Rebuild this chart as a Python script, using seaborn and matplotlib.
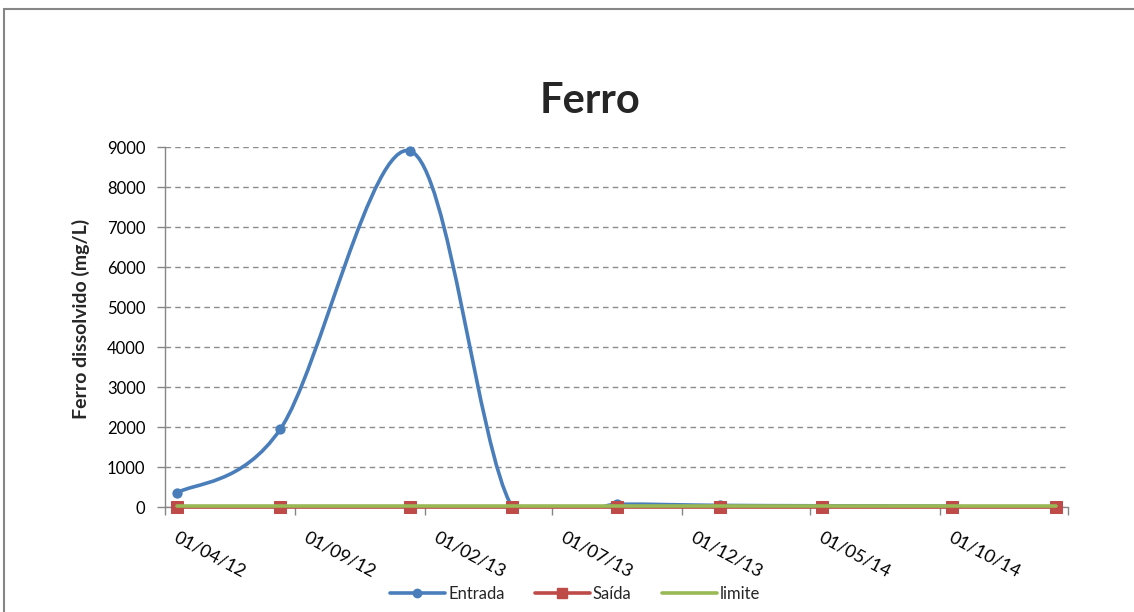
import matplotlib
matplotlib.use("Agg")
import matplotlib.pyplot as plt
import matplotlib.transforms as mtransforms
from matplotlib.path import Path
from matplotlib.patches import PathPatch, Rectangle
from matplotlib.lines import Line2D
import seaborn as sns
import numpy as np
import pandas as pd
import matplotlib.dates as mdates

# data
dates = pd.to_datetime([
    "2012-04-15", "2012-08-15", "2013-01-15", "2013-05-15", "2013-09-15",
    "2014-01-15", "2014-05-15", "2014-10-15", "2015-02-15",
])
entrada = [350, 1950, 8900, 0, 70, 40, 30, 20]
saida = [0, 0, 0, 0, 0, 0, 0, 0, 0]
limite = [15, 15, 15, 15, 15, 15, 15, 15, 15]

tick_dates = pd.to_datetime([
    "2012-04-01", "2012-09-01", "2013-02-01", "2013-07-01", "2013-12-01",
    "2014-05-01", "2014-10-01", "2015-03-01",
])
tick_labels = ["01/04/12", "01/09/12", "01/02/13", "01/07/13", "01/12/13",
               "01/05/14", "01/10/14", ""]
y_ticks = [0, 1000, 2000, 3000, 4000, 5000, 6000, 7000, 8000, 9000]

BLUE = "#4A7EBB"
RED = "#BE4B48"
GREEN = "#98B954"
GREY = "#868686"

W, H = 1134, 612

sns.set_style("white")
plt.rcParams["font.family"] = ["Lato", "DejaVu Sans"]


def smooth_path(x, y):
    # excel-like smoothed line: catmull-rom segments as cubic beziers
    pts = np.column_stack([x, y])
    n = len(pts)
    verts = [pts[0]]
    codes = [Path.MOVETO]
    for i in range(n - 1):
        p0 = pts[max(i - 1, 0)]
        p1 = pts[i]
        p2 = pts[i + 1]
        p3 = pts[min(i + 2, n - 1)]
        verts += [p1 + (p2 - p0) / 6, p2 - (p3 - p1) / 6, p2]
        codes += [Path.CURVE4] * 3
    return Path(verts, codes)


fig = plt.figure(figsize=(W / 100, H / 100), dpi=100)
ax = fig.add_axes([165 / W, 1 - 507 / H, 903 / W, 360 / H])

# entrada: smoothed line + circle markers
xnum = mdates.date2num(dates[:len(entrada)])
ax.add_patch(PathPatch(smooth_path(xnum, entrada), facecolor="none",
                       edgecolor=BLUE, lw=2.6, zorder=2, capstyle="round"))
sns.scatterplot(x=dates[:len(entrada)], y=entrada, color=BLUE, s=55,
                edgecolor=BLUE, linewidth=0, ax=ax, zorder=3, clip_on=False)

sns.lineplot(x=dates, y=saida, color=RED, lw=2.6, marker="s", markersize=8,
             markeredgecolor=RED, ax=ax, zorder=4, clip_on=False)
sns.lineplot(x=dates, y=limite, color=GREEN, lw=2.6, ax=ax, zorder=5,
             clip_on=False)

ax.set_xlim(tick_dates[0], tick_dates[-1])
ax.set_ylim(0, 9000)
ax.set_yticks(y_ticks)
ax.set_yticklabels([str(v) for v in y_ticks], fontsize=12)
ax.set_xticks(tick_dates)
ax.set_xticklabels(tick_labels, rotation=-28, ha="left", va="top",
                   rotation_mode="anchor", fontsize=13)

ax.yaxis.grid(True, linestyle=(0, (4, 3)), color="#8C8C8C", lw=1)
ax.xaxis.grid(False)
for side in ["top", "right"]:
    ax.spines[side].set_visible(False)
for side in ["left", "bottom"]:
    ax.spines[side].set_color(GREY)
    ax.spines[side].set_linewidth(1)
ax.tick_params(axis="both", direction="out", length=6, width=1, color=GREY,
               bottom=True, left=True, labelcolor="black")
ax.tick_params(axis="x", pad=10)
ax.tick_params(axis="y", pad=8)
ax.set_xlabel("")
ax.set_ylabel("")

# shift the rotated date labels right of their ticks, like excel does
offset = mtransforms.ScaledTranslation(14 / 100, 0, fig.dpi_scale_trans)
for lab in ax.get_xticklabels():
    lab.set_transform(lab.get_transform() + offset)

fig.text(590 / W, 1 - 101 / H, "Ferro", fontsize=30, fontweight="bold",
         ha="center", va="center")
fig.text(81 / W, 1 - 319 / H, "Ferro dissolvido (mg/L)", fontsize=14,
         fontweight="bold", rotation=90, ha="center", va="center")

handles = [
    Line2D([], [], color=BLUE, lw=2.6, marker="o", markersize=6),
    Line2D([], [], color=RED, lw=2.6, marker="s", markersize=7),
    Line2D([], [], color=GREEN, lw=2.6),
]
fig.legend(handles, ["Entrada", "Saída", "limite"], loc="center",
           bbox_to_anchor=(575 / W, 1 - 594 / H), ncol=3, frameon=False,
           fontsize=12, handlelength=3.3, handletextpad=0.2,
           columnspacing=1.8)

# chart frame (only top/left edges visible in the crop)
fig.patches.append(Rectangle((4 / W, -0.1), 1.2, 1 - 9 / H + 0.1,
                             transform=fig.transFigure, fill=False,
                             edgecolor=GREY, lw=1.5))

fig.savefig("out.png", dpi=100)
